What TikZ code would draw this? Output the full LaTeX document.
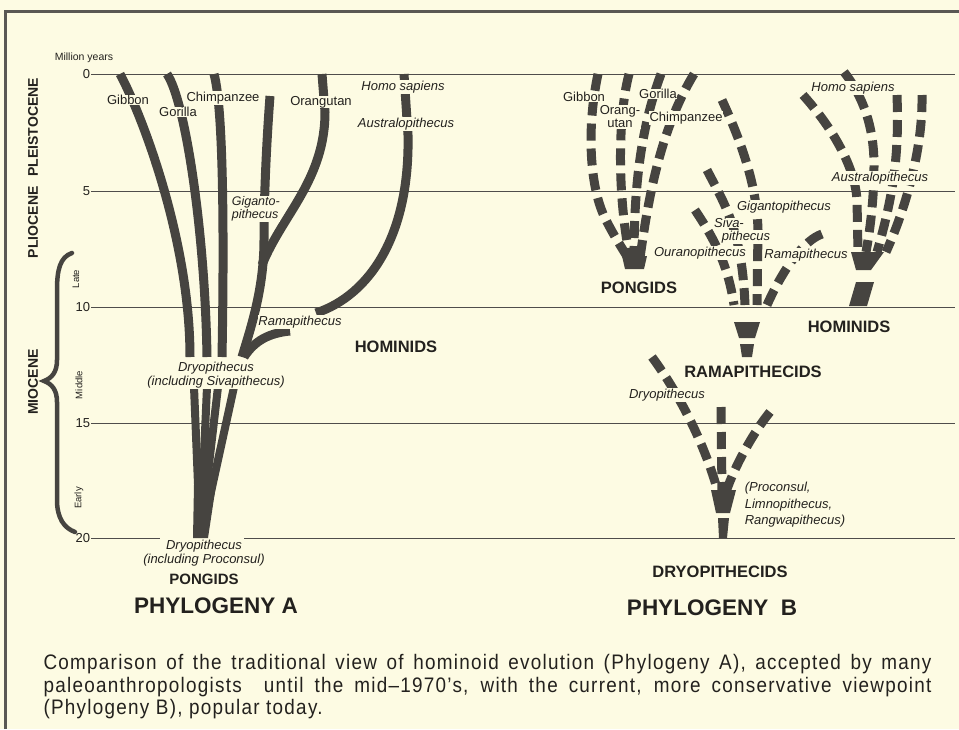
\documentclass[tikz,border=0pt]{standalone}
\usepackage{fontspec}
\setmainfont{Liberation Sans}
\newfontfamily\capfont[LetterSpace=6,FakeStretch=0.9]{Liberation Sans}
\usetikzlibrary{positioning}

\definecolor{paper}{RGB}{253,251,227}
\definecolor{bandc}{RGB}{70,68,64}
\definecolor{ink}{RGB}{35,33,30}
\definecolor{framec}{RGB}{90,88,84}

\begin{document}
\begin{tikzpicture}[x=1pt,y=-1pt,
  lab/.style={text=ink,fill=paper,inner sep=0.6pt,font=\fontsize{13}{14}\selectfont},
  tax/.style={lab,font=\fontsize{13}{14}\selectfont\itshape},
  grp/.style={text=ink,font=\fontsize{16.5}{18}\selectfont\bfseries},
  phy/.style={text=ink,font=\fontsize{22.5}{26}\selectfont\bfseries},
  epoch/.style={text=ink,rotate=90,font=\fontsize{14}{15}\selectfont\bfseries},
  sub/.style={text=ink,rotate=90,font=\fontsize{9.5}{10}\selectfont},
  timeline/.style={draw=ink!80,line width=0.9pt},
  band/.style={draw=bandc,line width=9pt},
  dband/.style={band,dash pattern=on 17pt off 8pt},
  blk/.style={fill=bandc}]
  \path[use as bounding box,fill=paper] (0,0) rectangle (959,729);
  \draw[line width=3pt,draw=framec] (5,729) -- (5,11) -- (959,11);

  \node[lab,fill=none,font=\fontsize{10.5}{12}\selectfont] (myr) at (84,58) {Million years};
  \foreach \t/\y in {0/74,5/191,10/307,15/423}{
    \node[lab,fill=none,anchor=east] (t\t) at (91,\y) {\t};
    \draw[timeline] (t\t.east) -- (955,\y);
  }
  \node[lab,fill=none,anchor=east] (t20) at (91,538) {20};
  \coordinate (gapl) at (160,538);
  \coordinate (gapr) at (244,538);
  \draw[timeline] (t20.east) -- (gapl);
  \draw[timeline] (gapr) -- (955,538);

  \node[epoch] (plio) at (33,168) {PLIOCENE\hspace{10pt}PLEISTOCENE};
  \node[epoch] (mio) at (33,382) {MIOCENE};
  \node[sub] (late) at (76,279) {Late};
  \node[sub] (mid) at (79,385) {Middle};
  \node[sub] (early) at (79,498) {Early};
  \draw[bandc,line width=4.5pt,line cap=round] (72,253) .. controls (60,257) and (57,270) .. (57,290) -- (57,360)
    .. controls (57,372) and (52,378) .. (44,381) .. controls (52,384) and (57,390) .. (57,402) -- (57,500)
    .. controls (57,518) and (64,528) .. (75,532);

  \draw[band] (120,74) .. controls (142,115) and (190,240) .. (190,357);
  \draw[band] (167,74) .. controls (185,100) and (205,230) .. (207,357);
  \draw[band] (214,74) .. controls (224,110) and (224,250) .. (222,357);
  \draw[band] (270,96) .. controls (266,150) and (264,200) .. (264,240) .. controls (264,290) and (250,330) .. (242,357);
  \draw[band] (322,74) -- (325,112) .. controls (325,180) and (282,215) .. (262,265);
  \draw[band] (404,74) -- (408,135) .. controls (410,235) and (370,295) .. (316,313);
  \draw[band] (244,357) .. controls (255,340) and (270,333) .. (290,331);
  \foreach \x/\z in {194/200,207/200.5,218/201,234/202}
    \draw[band,line width=8pt] (\x,387) -- (\z,533);
  \fill[blk] (194,485) -- (216,485) -- (208,538) -- (193,538) -- cycle;

  \draw[dband] (598,74) .. controls (586,130) and (590,190) .. (606,220) .. controls (614,236) and (622,248) .. (628,258);
  \draw[dband] (629,74) .. controls (617,120) and (618,200) .. (630,258);
  \draw[dband] (661,74) .. controls (640,130) and (634,190) .. (634,258);
  \draw[dband] (694,74) .. controls (660,130) and (648,200) .. (640,258);
  \fill[blk] (622,256) -- (647,256) -- (644,269) -- (625,269) -- cycle;

  \draw[dband] (722,100) .. controls (745,150) and (757,190) .. (758,230) -- (757,305);
  \draw[dband] (707,170) .. controls (725,205) and (742,230) .. (745,305);
  \draw[dband] (695,210) .. controls (715,240) and (728,265) .. (734,305);
  \draw[dband] (822,234) .. controls (805,240) and (785,265) .. (767,305);
  \fill[blk] (734,322) -- (760,322) -- (755,338) -- (739,338) -- cycle;
  \fill[blk] (740,344) -- (754,344) -- (752,357) -- (742,357) -- cycle;

  \draw[dband] (652,357) .. controls (680,395) and (705,445) .. (718,492);
  \draw[dband] (721,407) -- (722,492);
  \draw[dband] (770,412) .. controls (755,430) and (735,465) .. (726,492);
  \fill[blk] (711,490) -- (736,490) -- (730,513) -- (716,513) -- cycle;
  \fill[blk] (718,518) -- (729,518) -- (727,538) -- (719,538) -- cycle;

  \draw[dband] (803,95) .. controls (830,125) and (855,165) .. (857,200) -- (858,252);
  \draw[dband] (844,72) .. controls (862,95) and (874,125) .. (874,165) .. controls (874,200) and (870,230) .. (866,252);
  \draw[dband] (897,95) .. controls (899,150) and (895,190) .. (877,252);
  \draw[dband] (922,95) .. controls (923,150) and (905,210) .. (886,252);
  \fill[blk] (851,252) -- (884,252) -- (871,270) -- (856,270) -- cycle;
  \fill[blk] (856,282) -- (874,282) -- (867,306) -- (849,306) -- cycle;

  \node[lab] (gibA) at (128,100) {Gibbon};
  \node[lab] (gorA) at (178,112) {Gorilla};
  \node[lab] (chiA) at (223,98) {Chimpanzee};
  \node[lab] (oraA) at (321,102) {Orangutan};
  \node[tax] (homA) at (403,87) {Homo sapiens};
  \node[tax] (ausA) at (406,124) {Australopithecus};
  \node[tax,align=left,anchor=north west,font=\fontsize{12.5}{13}\selectfont\itshape] (gigA) at (231,196) {Giganto-\\pithecus};
  \node[tax] (ramA) at (300,322) {Ramapithecus};
  \node[tax,align=center] (dryA) at (216,375) {Dryopithecus\\(including Sivapithecus)};
  \node[grp] (homsA) at (396,347) {HOMINIDS};
  \node[tax,align=center,fill=none] (proA) at (204,553) {Dryopithecus\\(including Proconsul)};
  \node[grp,font=\fontsize{15}{17}\selectfont\bfseries] (ponA) at (204,579) {PONGIDS};
  \node[phy] (phyA) at (216,606) {PHYLOGENY A};

  \node[lab] (gibB) at (584,97) {Gibbon};
  \node[lab,align=center,font=\fontsize{13}{13}\selectfont] (oraB) at (620,117) {Orang-\\utan};
  \node[lab] (gorB) at (658,94) {Gorilla};
  \node[lab] (chiB) at (686,118) {Chimpanzee};
  \node[grp] (ponB) at (639,288) {PONGIDS};
  \node[tax] (gigB) at (784,207) {Gigantopithecus};
  \node[tax] (sivB) at (729,223) {Siva-};
  \node[tax] (sivB2) at (746,237) {pithecus};
  \node[tax] (ouraB) at (700,253) {Ouranopithecus};
  \node[tax] (ramB) at (806,255) {Ramapithecus};
  \node[grp] (ramsB) at (753,372) {RAMAPITHECIDS};
  \node[tax] (dryB) at (667,395) {Dryopithecus};
  \node[tax,align=left,anchor=west,fill=none,font=\fontsize{13}{16.5}\selectfont\itshape] (procB) at (744,505) {(Proconsul,\\Limnopithecus,\\Rangwapithecus)};
  \node[grp] (dryoB) at (720,572) {DRYOPITHECIDS};
  \node[phy] (phyB) at (712,608) {PHYLOGENY\ \ B};
  \node[tax] (homB) at (853,88) {Homo sapiens};
  \node[tax] (ausB) at (880,178) {Australopithecus};
  \node[grp] (homsB) at (849,327) {HOMINIDS};

  \node[anchor=west,align=left,text=ink,font=\capfont\fontsize{21}{22.5}\selectfont] (cap) at (40,687)
    {\makebox[888pt][s]{Comparison of the traditional view of hominoid evolution (Phylogeny A), accepted by many}\\
     \makebox[888pt][s]{paleoanthropologists\ \ until the mid–1970’s, with the current, more conservative viewpoint}\\
     (Phylogeny B), popular today.};
\end{tikzpicture}
\end{document}
